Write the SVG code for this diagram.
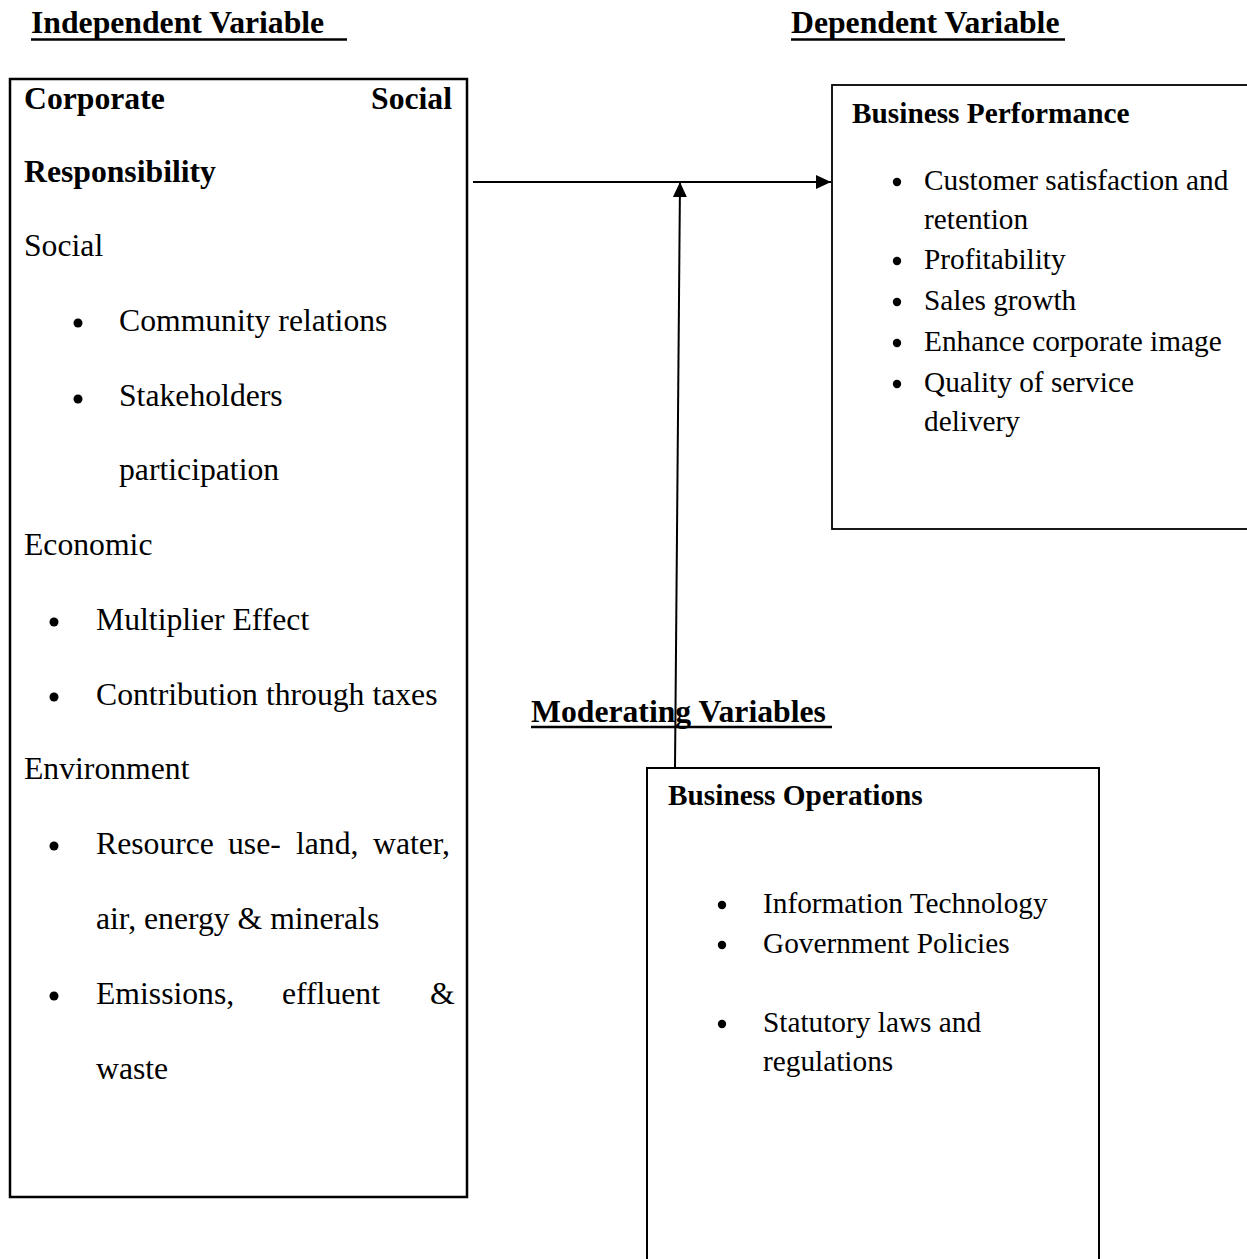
<svg xmlns="http://www.w3.org/2000/svg" width="1247" height="1259" viewBox="0 0 1247 1259">
<style>
text{font-family:"Liberation Serif","Times New Roman",serif;fill:#000}
.h{font-size:31.7px;font-weight:bold}
.l{font-size:31.7px}
.r{font-size:29.3px}
.rb{font-size:29.3px;font-weight:bold}
.box{fill:none;stroke:#000}
.ul{stroke:#000;stroke-width:2.5}
.conn{stroke:#000;stroke-width:2;fill:none}
</style>
<defs>
<marker id="ah" markerUnits="userSpaceOnUse" markerWidth="15" markerHeight="14" refX="15" refY="7" orient="auto">
<path d="M0,0 L15,7 L0,14 z" fill="#000"/>
</marker>
</defs>
<rect width="1247" height="1259" fill="#fff"/>
<g id="headers">
<text class="h" x="31" y="33">Independent Variable </text>
<line class="ul" x1="31" y1="39.5" x2="347" y2="39.5"/>
<text class="h" x="791" y="33">Dependent Variable</text>
<line class="ul" x1="791" y1="39.5" x2="1065" y2="39.5"/>
</g>
<g id="csr">
<rect class="box" x="10" y="79" width="457" height="1118" stroke-width="2.5"/>
<text class="h" x="24" y="109">Corporate</text>
<text class="h" x="452" y="109" text-anchor="end">Social</text>
<text class="h" x="24" y="182">Responsibility</text>
<text class="l" x="24" y="256">Social</text>
<circle cx="78" cy="323" r="4.5"/>
<text class="l" x="119" y="331">Community relations</text>
<circle cx="78" cy="399" r="4.5"/>
<text class="l" x="119" y="406">Stakeholders</text>
<text class="l" x="119" y="480">participation</text>
<text class="l" x="24" y="555">Economic</text>
<circle cx="54" cy="622" r="4.5"/>
<text class="l" x="96" y="630">Multiplier Effect</text>
<circle cx="54" cy="697" r="4.5"/>
<text class="l" x="96" y="705">Contribution through taxes</text>
<text class="l" x="24" y="779">Environment</text>
<circle cx="54" cy="846" r="4.5"/>
<text class="l" y="854"><tspan x="96">Resource</tspan><tspan x="228">use-</tspan><tspan x="296">land,</tspan><tspan x="373">water,</tspan></text>
<text class="l" x="96" y="929">air, energy &amp; minerals</text>
<circle cx="54" cy="996" r="4.5"/>
<text class="l" y="1004"><tspan x="96">Emissions,</tspan><tspan x="282">effluent</tspan><tspan x="430">&amp;</tspan></text>
<text class="l" x="96" y="1079">waste</text>
</g>
<g id="performance">
<rect class="box" x="832" y="85" width="430" height="444" stroke-width="1.8"/>
<text class="rb" x="852" y="123">Business Performance</text>
<circle cx="897" cy="182" r="4.2"/>
<text class="r" x="924" y="190">Customer satisfaction and</text>
<text class="r" x="924" y="229">retention</text>
<circle cx="897" cy="261" r="4.2"/>
<text class="r" x="924" y="269">Profitability</text>
<circle cx="897" cy="302" r="4.2"/>
<text class="r" x="924" y="310">Sales growth</text>
<circle cx="897" cy="343" r="4.2"/>
<text class="r" x="924" y="351">Enhance corporate image</text>
<circle cx="897" cy="384" r="4.2"/>
<text class="r" x="924" y="392">Quality of service</text>
<text class="r" x="924" y="431">delivery</text>
</g>
<g id="moderating-label">
<text class="h" x="531" y="722">Moderating Variables</text>
<line class="ul" x1="531" y1="727" x2="832" y2="727"/>
</g>
<g id="operations">
<rect class="box" x="647" y="768" width="452" height="520" stroke-width="2"/>
<text class="rb" x="668" y="805">Business Operations</text>
<circle cx="722" cy="905" r="4.2"/>
<text class="r" x="763" y="913">Information Technology</text>
<circle cx="722" cy="945" r="4.2"/>
<text class="r" x="763" y="953">Government Policies</text>
<circle cx="722" cy="1024" r="4.2"/>
<text class="r" x="763" y="1032">Statutory laws and</text>
<text class="r" x="763" y="1071">regulations</text>
</g>
<g id="connectors">
<line class="conn" x1="473" y1="182" x2="831" y2="182" marker-end="url(#ah)"/>
<line class="conn" x1="675" y1="768" x2="680" y2="182" marker-end="url(#ah)"/>
</g>
</svg>
